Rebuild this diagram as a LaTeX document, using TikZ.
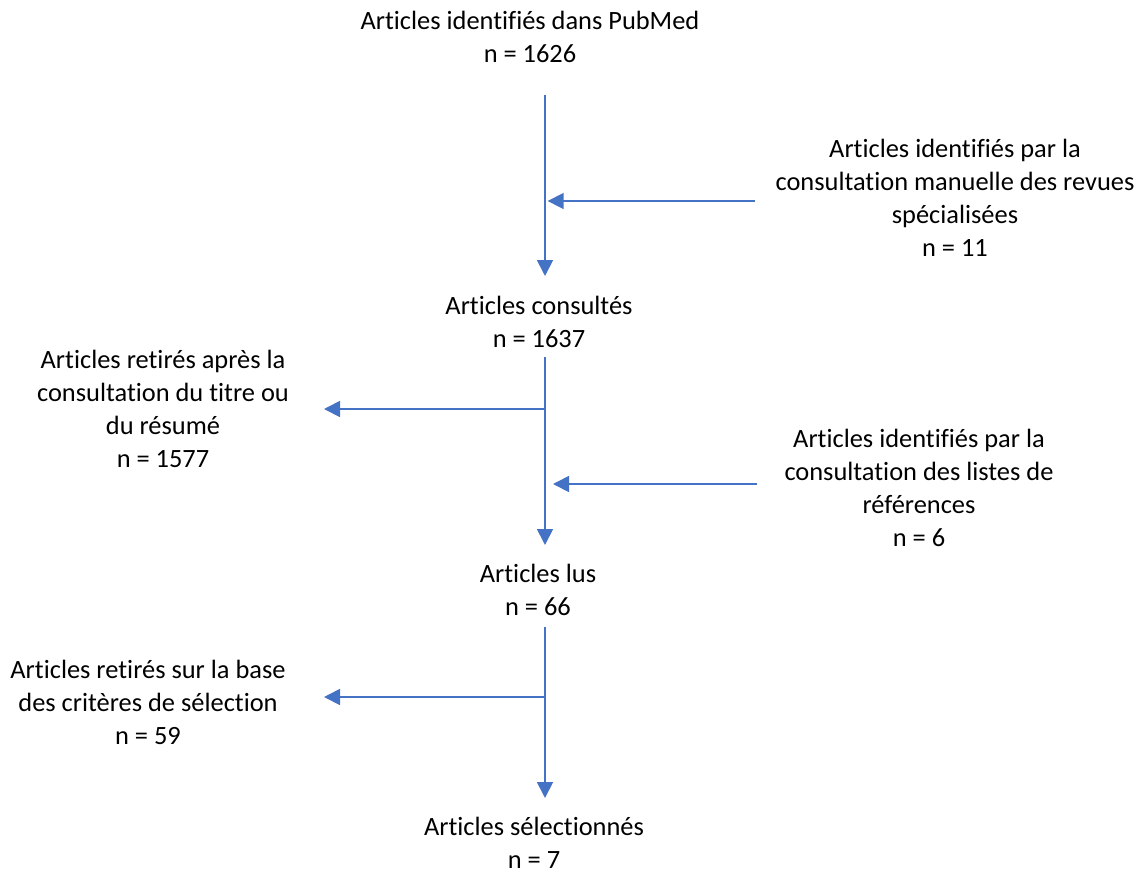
\documentclass[tikz,border=0pt]{standalone}
\usepackage{fontspec}
\setmainfont{Carlito}[Ligatures=NoCommon]
\usetikzlibrary{arrows.meta}
\definecolor{flowblue}{HTML}{4472C4}

\begin{document}
\begin{tikzpicture}[x=0.75pt,y=-0.75pt,every node/.style={inner sep=0pt,outer sep=0pt}]

	\tikzstyle{txt}=[align=center,font=\fontsize{19.8}{24.75}\selectfont,anchor=base]
	\tikzstyle{flow}=[draw=flowblue,line width=1.3pt,-{Triangle[length=12pt,width=12pt]}]

	\useasboundingbox (0,0) rectangle (1141,871);

	% texts (anchored on the baseline of the last line)
	\node (pubmed) at (530,62) [txt] {Articles identifiés dans PubMed\\n = 1626};
	\node (revues) at (955,256) [txt] {Articles identifiés par la\\consultation manuelle des revues\\spécialisées\\n = 11};
	\node (consult) at (539,347) [txt] {Articles consultés\\n = 1637};
	\node (retires1) at (163,467) [txt] {Articles retirés après la\\consultation du titre ou\\du résumé\\n = 1577};
	\node (listes) at (919,546) [txt] {Articles identifiés par la\\consultation des listes de\\références\\n = 6};
	\node (lus) at (538,615) [txt] {Articles lus\\n = 66};
	\node (retires2) at (148,744) [txt] {Articles retirés sur la base\\des critères de sélection\\n = 59};
	\node (select) at (534,868) [txt] {Articles sélectionnés\\n = 7};

	% trunk points
	\coordinate (a1) at (545,95);
	\coordinate (j1) at (545,201);
	\coordinate (b1) at (545,276);
	\coordinate (a2) at (545,357);
	\coordinate (j2) at (545,409);
	\coordinate (j3) at (545,484);
	\coordinate (b2) at (545,545);
	\coordinate (a3) at (545,627);
	\coordinate (j4) at (545,697);
	\coordinate (b3) at (545,798);

	% side ends
	\coordinate (r1) at (755,201);
	\coordinate (l1) at (324,409);
	\coordinate (r2) at (757,484);
	\coordinate (l2) at (324,697);

	\draw [flow] (a1) -- (b1);
	\draw [flow] (r1) -- ([xshift=2]j1);
	\draw [flow] (a2) -- (b2);
	\draw [flow] (j2) -- (l1);
	\draw [flow] (r2) -- ([xshift=6]j3);
	\draw [flow] (a3) -- (b3);
	\draw [flow] (j4) -- (l2);

\end{tikzpicture}
\end{document}
